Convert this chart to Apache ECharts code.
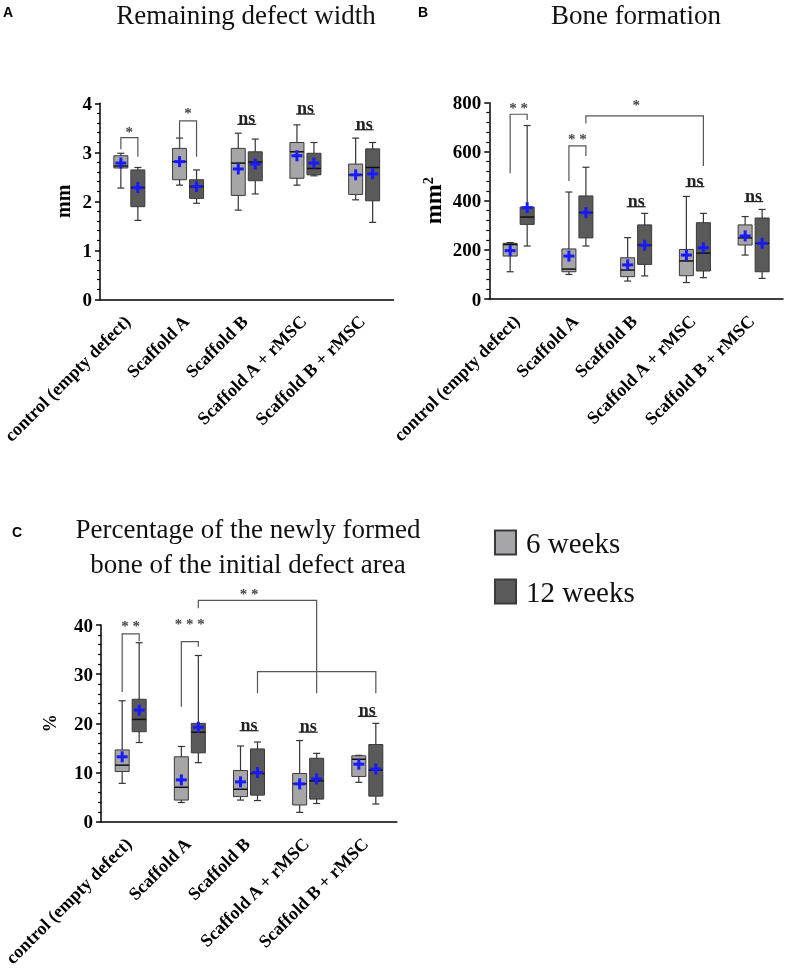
<!DOCTYPE html>
<html>
<head>
<meta charset="utf-8">
<script src="https://cdn.jsdelivr.net/npm/echarts@6/dist/echarts.min.js"></script>
<style>
html,body{margin:0;padding:0;background:#fff;}
#chart{width:787px;height:969px;}
#chart svg{will-change:transform;}
</style>
</head>
<body>
<div id="chart"></div>
<script>
// ---------- data ----------
const categories = ['control (empty defect)', 'Scaffold A', 'Scaffold B', 'Scaffold A + rMSC', 'Scaffold B + rMSC'];
const seriesNames = ['6 weeks', '12 weeks'];

// each row: [min, Q1, median, Q3, max, mean]
const widthWeek6 = [
  [2.27, 2.68, 2.72, 2.93, 2.98, 2.78],
  [2.33, 2.44, 2.81, 3.08, 3.29, 2.81],
  [1.82, 2.12, 2.78, 3.08, 3.39, 2.66],
  [2.33, 2.47, 3.01, 3.20, 3.56, 2.93],
  [2.03, 2.14, 2.54, 2.76, 3.29, 2.54]
];
const widthWeek12 = [
  [1.61, 1.89, 2.28, 2.64, 2.69, 2.28],
  [1.96, 2.06, 2.30, 2.44, 2.64, 2.30],
  [2.15, 2.42, 2.80, 3.01, 3.27, 2.76],
  [2.52, 2.54, 2.67, 2.98, 3.20, 2.78],
  [1.57, 2.01, 2.69, 3.07, 3.20, 2.56]
];
const boneWeek6 = [
  [111, 175, 222, 227, 230, 197],
  [100, 111, 122, 204, 436, 175],
  [73, 91, 118, 168, 250, 139],
  [67, 95, 155, 202, 418, 179],
  [179, 220, 249, 302, 336, 257]
];
const boneWeek12 = [
  [216, 304, 334, 375, 707, 372],
  [216, 249, 352, 420, 537, 352],
  [94, 141, 220, 302, 349, 219],
  [87, 114, 187, 311, 349, 209],
  [84, 111, 227, 330, 365, 227]
];
const pctWeek6 = [
  [7.8, 10.2, 11.5, 14.6, 24.6, 13.2],
  [3.9, 4.4, 7.0, 13.2, 15.3, 8.5],
  [4.4, 5.1, 6.6, 10.4, 15.4, 8.1],
  [1.9, 3.4, 7.7, 9.8, 16.5, 7.7],
  [8.0, 9.2, 12.7, 13.4, 13.5, 11.7]
];
const pctWeek12 = [
  [16.1, 18.3, 20.8, 24.9, 36.4, 22.7],
  [12.0, 14.0, 18.2, 20.0, 33.8, 19.2],
  [4.3, 5.4, 9.8, 14.8, 16.2, 10.0],
  [3.7, 4.6, 8.3, 12.9, 13.9, 8.7],
  [3.6, 5.2, 10.5, 15.7, 20.0, 10.7]
];

// y-axis tick values
const widthTicks = [0, 1, 2, 3, 4];
const boneTicks = [0, 200, 400, 600, 800];
const pctTicks = [0, 10, 20, 30, 40];

// significance brackets: points [category, side(-1 = 6 wk, 1 = 12 wk, 0 = centre), value]
const widthBrackets = [
  [[0, -1, 3.06], [0, -1, 3.30], [0, 1, 3.30], [0, 1, 2.91]],
  [[1, -1, 3.08], [1, -1, 3.64], [1, 1, 3.64], [1, 1, 2.91]]
];
const widthStars = [['*', 0, 0, 3.42], ['*', 1, 0, 3.81]];
const widthNs = [[2, 3.57], [3, 3.78], [4, 3.46]];

const boneBrackets = [
  [[0, -1, 512], [0, -1, 753], [0, 1, 753], [0, 1, 730]],
  [[1, -1, 481], [1, -1, 624], [1, 1, 624], [1, 1, 583]],
  [[1, 1, 715], [1, 1, 746], [3, 1, 746], [3, 1, 542]]
];
const boneStars = [['* *', 0, 0, 777], ['* *', 1, 0, 651], ['*', 2, 0, 790]];
const boneNs = [[2, 376], [3, 458], [4, 397]];

const pctBrackets = [
  [[0, -1, 26.4], [0, -1, 38.2], [0, 1, 38.2], [0, 1, 36.7]],
  [[1, -1, 23.4], [1, -1, 36.6], [1, 1, 36.6], [1, 1, 35.6]],
  [[1, 1, 43.4], [1, 1, 45.0], [3, 1, 45.0], [3, 1, 26.1]],
  [[2, 1, 26.1], [2, 1, 30.5], [4, 1, 30.5], [4, 1, 26.1]]
];
const pctStars = [['* *', 0, 0, 39.7], ['* * *', 1, 0, 40.3], ['* *', 2, 0, 46.4]];
const pctNs = [[2, 18.5], [3, 18.2], [4, 21.4]];

// ---------- styling ----------
const SERIF = '"Times New Roman", "Liberation Serif", "DejaVu Serif", serif';
const SANS = 'Arial, "Liberation Sans", sans-serif';
const LIGHT = '#a6a6a8';
const DARK = '#5a5a5a';
const SIDE_OFF = 8.5;

const chart = echarts.init(document.getElementById('chart'), null, {renderer: 'svg'});

function boxRenderer(side, fill) {
  return function (params, api) {
    const c = api.value(0);
    const p = [1, 2, 3, 4, 5, 6].map(d => api.coord([c, api.value(d)]));
    const x = p[0][0] + side * SIDE_OFF;
    const yMin = p[0][1], yQ1 = p[1][1], yMed = p[2][1], yQ3 = p[3][1], yMax = p[4][1], yMean = p[5][1];
    const hw = 7, cap = 3.5, cs = 5.5;
    const wStyle = {stroke: '#333', lineWidth: 1.2};
    return {
      type: 'group',
      children: [
        {type: 'line', shape: {x1: x, y1: yMax, x2: x, y2: yMin}, style: wStyle},
        {type: 'line', shape: {x1: x - cap, y1: yMax, x2: x + cap, y2: yMax}, style: wStyle},
        {type: 'line', shape: {x1: x - cap, y1: yMin, x2: x + cap, y2: yMin}, style: wStyle},
        {type: 'rect', shape: {x: x - hw, y: yQ3, width: hw * 2, height: yQ1 - yQ3}, style: {fill: fill, stroke: '#3a3a3a', lineWidth: 1}},
        {type: 'line', shape: {x1: x - hw, y1: yMed, x2: x + hw, y2: yMed}, style: {stroke: '#111', lineWidth: 1.5}},
        {type: 'line', shape: {x1: x - cs, y1: yMean, x2: x + cs, y2: yMean}, style: {stroke: '#1a1aff', lineWidth: 3}},
        {type: 'line', shape: {x1: x, y1: yMean - cs, x2: x, y2: yMean + cs}, style: {stroke: '#1a1aff', lineWidth: 3}}
      ]
    };
  };
}

function annotRenderer(brackets, stars, ns) {
  return function (params, api) {
    const children = [];
    const pt = (c, s, v) => {
      const q = api.coord([c, v]);
      return [q[0] + s * SIDE_OFF, q[1]];
    };
    brackets.forEach(b => {
      children.push({
        type: 'polyline',
        shape: {points: b.map(q => pt(q[0], q[1], q[2]))},
        style: {stroke: '#555', lineWidth: 1.2, fill: null}
      });
    });
    stars.forEach(s => {
      const q = pt(s[1], s[2], s[3]);
      children.push({
        type: 'text',
        style: {text: s[0], x: q[0], y: q[1], textAlign: 'center', textVerticalAlign: 'middle',
          textFont: 'bold 15px ' + SERIF, textFill: '#444', fill: '#444', font: 'bold 15px ' + SERIF}
      });
    });
    ns.forEach(n => {
      const q = pt(n[0], 0, n[1]);
      children.push({
        type: 'line', shape: {x1: q[0] - 9.5, y1: q[1], x2: q[0] + 9.5, y2: q[1]},
        style: {stroke: '#222', lineWidth: 1.2}
      });
      children.push({
        type: 'text',
        style: {text: 'ns', x: q[0], y: q[1] + 3, textAlign: 'center', textVerticalAlign: 'bottom',
          textFont: 'bold 18px ' + SERIF, font: 'bold 18px ' + SERIF, textFill: '#222', fill: '#222'}
      });
    });
    return {type: 'group', children: children};
  };
}

const grids = [
  {left: 100, right: 787 - 393.5, top: 103.3, bottom: 969 - 299.3, containLabel: false, outerBoundsMode: 'none'},
  {left: 489.3, right: 787 - 783, top: 102.7, bottom: 969 - 299, containLabel: false, outerBoundsMode: 'none'},
  {left: 101.1, right: 787 - 396.9, top: 625, bottom: 969 - 821.7, containLabel: false, outerBoundsMode: 'none'}
];

const yDefs = [
  {ticks: widthTicks, name: 'mm', gap: 27, rich: false},
  {ticks: boneTicks, name: '{a|mm}{b|2}', gap: 44, rich: true},
  {ticks: pctTicks, name: '%', gap: 42, rich: false}
];

const xAxes = grids.map((g, i) => ({
  type: 'category',
  gridIndex: i,
  data: categories,
  axisLine: {lineStyle: {color: '#000', width: 1.5}},
  axisTick: {alignWithLabel: true, length: 5, lineStyle: {color: '#000', width: 1.5}},
  axisLabel: {rotate: 45, interval: 0, margin: 17, padding: [0, 3, 0, 0], hideOverlap: false, color: '#000', fontFamily: SERIF, fontWeight: 'bold', fontSize: 18},
  splitLine: {show: false}
}));

const yAxes = yDefs.map((d, i) => ({
  type: 'value',
  gridIndex: i,
  min: d.ticks[0],
  max: d.ticks[d.ticks.length - 1],
  interval: d.ticks[1] - d.ticks[0],
  name: d.name,
  nameLocation: 'middle',
  nameRotate: 90,
  nameGap: d.gap,
  nameTextStyle: d.rich ? {
    rich: {
      a: {fontFamily: SERIF, fontWeight: 'bold', fontSize: 24, color: '#000'},
      b: {fontFamily: SERIF, fontWeight: 'bold', fontSize: 14, color: '#000', verticalAlign: 'top'}
    }
  } : {fontFamily: SERIF, fontWeight: 'bold', fontSize: i === 0 ? 20 : 18, color: '#000'},
  axisLine: {show: true, lineStyle: {color: '#000', width: 1.5}},
  axisTick: {show: true, length: 5, lineStyle: {color: '#000', width: 1.5}},
  minorTick: {show: true, splitNumber: 5, length: 3, lineStyle: {color: '#000', width: 1.2}},
  axisLabel: {margin: 8, color: '#000', fontFamily: SERIF, fontWeight: 'bold', fontSize: 19},
  splitLine: {show: false}
}));

const panelData = [[widthWeek6, widthWeek12], [boneWeek6, boneWeek12], [pctWeek6, pctWeek12]];
const panelAnnot = [[widthBrackets, widthStars, widthNs], [boneBrackets, boneStars, boneNs], [pctBrackets, pctStars, pctNs]];

const series = [];
panelData.forEach((pair, gi) => {
  pair.forEach((rows, si) => {
    series.push({
      type: 'custom',
      name: seriesNames[si],
      xAxisIndex: gi,
      yAxisIndex: gi,
      renderItem: boxRenderer(si === 0 ? -1 : 1, si === 0 ? LIGHT : DARK),
      itemStyle: {color: si === 0 ? LIGHT : DARK, borderColor: '#3a3a3a', borderWidth: 1},
      encode: {x: 0, y: [1, 2, 3, 4, 5]},
      data: rows.map((r, ci) => [ci].concat(r)),
      z: 2
    });
  });
  const a = panelAnnot[gi];
  series.push({
    type: 'custom',
    name: 'annotations' + gi,
    xAxisIndex: gi,
    yAxisIndex: gi,
    clip: false,
    silent: true,
    renderItem: annotRenderer(a[0], a[1], a[2]),
    itemStyle: {color: '#333'},
    encode: {x: 0, y: 1},
    data: [[0, 0]],
    z: 3
  });
});

const option = {
  backgroundColor: '#fff',
  animation: false,
  grid: grids,
  xAxis: xAxes,
  yAxis: yAxes,
  legend: {
    data: seriesNames,
    orient: 'vertical',
    left: 489,
    top: 523,
    icon: 'rect',
    itemWidth: 21,
    itemHeight: 24,
    itemGap: 20,
    textStyle: {fontFamily: SERIF, fontSize: 29, color: '#111', padding: [0, 0, 0, 5]},
    selectedMode: false
  },
  graphic: [
    {type: 'text', left: 3, top: 5, style: {text: 'A', font: 'bold 14px ' + SANS, fill: '#000'}},
    {type: 'text', left: 418, top: 5, style: {text: 'B', font: 'bold 14px ' + SANS, fill: '#000'}},
    {type: 'text', left: 12, top: 525, style: {text: 'C', font: 'bold 14px ' + SANS, fill: '#000'}},
    {type: 'text', x: 246, y: 15, style: {text: 'Remaining defect width', font: '27px ' + SERIF, fill: '#111', textAlign: 'center', textVerticalAlign: 'middle'}},
    {type: 'text', x: 636, y: 15, style: {text: 'Bone formation', font: '27px ' + SERIF, fill: '#111', textAlign: 'center', textVerticalAlign: 'middle'}},
    {type: 'text', x: 248, y: 546, style: {text: 'Percentage of the newly formed\nbone of the initial defect area', font: '27px ' + SERIF, lineHeight: 35, fill: '#111', textAlign: 'center', textVerticalAlign: 'middle'}}
  ],
  series: series
};
chart.setOption(option);
</script>
</body>
</html>
